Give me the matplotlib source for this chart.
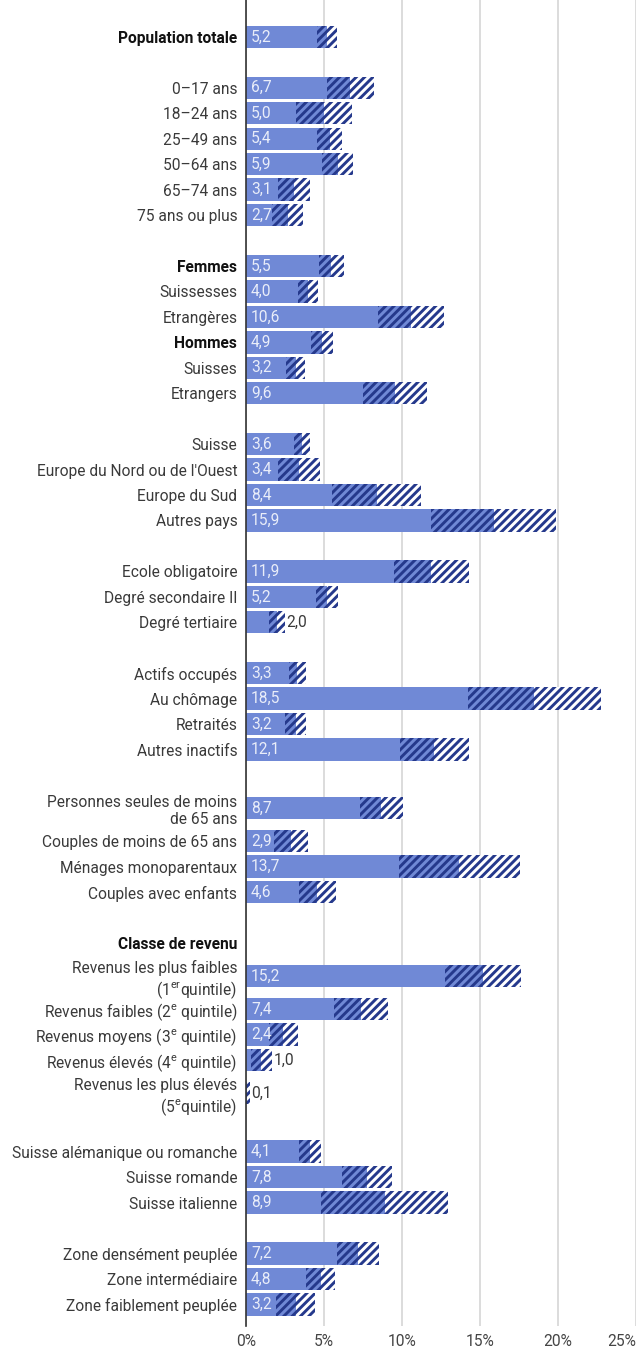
import matplotlib.pyplot as plt
import numpy as np

plt.rcParams['font.family'] = ['Roboto', 'DejaVu Sans']
plt.rcParams['mathtext.fontset'] = 'custom'
plt.rcParams['mathtext.rm'] = 'Roboto'
plt.rcParams['mathtext.it'] = 'Roboto:italic'
plt.rcParams['mathtext.bf'] = 'Roboto:bold'
plt.rcParams['hatch.linewidth'] = 2.1

# '' = empty spacer row
labels = [
    'Population totale', '',
    '0–17 ans', '18–24 ans', '25–49 ans', '50–64 ans', '65–74 ans', '75 ans ou plus', '',
    'Femmes', 'Suissesses', 'Etrangères', 'Hommes', 'Suisses', 'Etrangers', '',
    'Suisse', "Europe du Nord ou de l'Ouest", 'Europe du Sud', 'Autres pays', '',
    'Ecole obligatoire', 'Degré secondaire II', 'Degré tertiaire', '',
    'Actifs occupés', 'Au chômage', 'Retraités', 'Autres inactifs', '',
    'Personnes seules de moins\nde 65 ans', 'Couples de moins de 65 ans',
    'Ménages monoparentaux', 'Couples avec enfants', '',
    'Classe de revenu',
    'Revenus les plus faibles\n(1$^{\\mathrm{er}}$quintile)',
    'Revenus faibles (2$^{\\mathrm{e}}$ quintile)',
    'Revenus moyens (3$^{\\mathrm{e}}$ quintile)',
    'Revenus élevés (4$^{\\mathrm{e}}$ quintile)',
    'Revenus les plus élevés\n(5$^{\\mathrm{e}}$quintile)', '',
    'Suisse alémanique ou romanche', 'Suisse romande', 'Suisse italienne', '',
    'Zone densément peuplée', 'Zone intermédiaire', 'Zone faiblement peuplée',
]
values = [
    5.2, None,
    6.7, 5.0, 5.4, 5.9, 3.1, 2.7, None,
    5.5, 4.0, 10.6, 4.9, 3.2, 9.6, None,
    3.6, 3.4, 8.4, 15.9, None,
    11.9, 5.2, 2.0, None,
    3.3, 18.5, 3.2, 12.1, None,
    8.7, 2.9, 13.7, 4.6, None,
    None, 15.2, 7.4, 2.4, 1.0, 0.1, None,
    4.1, 7.8, 8.9, None,
    7.2, 4.8, 3.2,
]
# half-width of the confidence interval
margins = [
    0.65, None,
    1.5, 1.8, 0.8, 1.0, 1.0, 1.0, None,
    0.8, 0.65, 2.1, 0.7, 0.6, 2.05, None,
    0.5, 1.35, 2.85, 4.0, None,
    2.4, 0.7, 0.5, None,
    0.55, 4.25, 0.7, 2.2, None,
    1.4, 1.1, 3.85, 1.2, None,
    None, 2.45, 1.73, 0.93, 0.68, 0.18, None,
    0.7, 1.6, 4.05, None,
    1.35, 0.95, 1.25,
]
bold_labels = ['Population totale', 'Femmes', 'Hommes', 'Classe de revenu']

blue = '#7089d6'
navy = '#25398c'
fs = 11.2

# row heights: two-line labels take more room
heights = [1.6 if '\n' in lab else 1.0 for lab in labels]
ys = [0.0]
for i in range(1, len(labels)):
    ys.append(ys[-1] + heights[i - 1] / 2 + heights[i] / 2)

fig = plt.figure(figsize=(6.38, 13.53), dpi=100)
ax = fig.add_axes([0.385, 0.0203, 0.6115, 0.9797])

bh = 0.88
for y, v, m in zip(ys, values, margins):
    if v is None:
        continue
    lo = max(v - m, 0)
    hi = v + m
    ax.barh(y, lo, height=bh, color=blue, lw=0)
    ax.barh(y, v - lo, left=lo, height=bh, color=blue, edgecolor=navy, hatch='////', lw=0)
    ax.barh(y, hi - v, left=v, height=bh, color='white', edgecolor=navy, hatch='////', lw=0)
    txt = f'{v:.1f}'.replace('.', ',')
    if v > 2.2:
        ax.text(0.35, y, txt, color='#e9edf9', va='center', ha='left', fontsize=fs)
    else:
        ax.text(hi + 0.1, y, txt, color='#3a3a3a', va='center', ha='left', fontsize=fs)

tick_pos = [y for y, lab in zip(ys, labels) if lab]
tick_lab = [lab for lab in labels if lab]
ax.set_yticks(tick_pos, tick_lab)
for t in ax.get_yticklabels():
    t.set_color('#3a3a3a')
    t.set_fontsize(fs)
    if t.get_text() in bold_labels:
        t.set_fontweight('bold')
        t.set_color('#111111')
ax.tick_params(axis='y', length=0, pad=6)

ax.set_xlim(0, 25)
ax.set_ylim(ys[-1] + 0.83, -1.45)
xt = [0, 5, 10, 15, 20, 25]
ax.set_xticks(xt, [f'{t}%' for t in xt])
ax.tick_params(axis='x', length=0, pad=6, labelsize=fs, labelcolor='#444444')
ax.get_xticklabels()[-1].set_horizontalalignment('right')

ax.grid(axis='x', color='#d9d9d9', lw=1.3)
ax.set_axisbelow(True)
for s in ['top', 'right', 'bottom']:
    ax.spines[s].set_visible(False)
ax.spines['left'].set_color('#333333')
ax.spines['left'].set_linewidth(1.2)
ax.spines['left'].set_zorder(5)

fig.savefig('out.png', dpi=100)
